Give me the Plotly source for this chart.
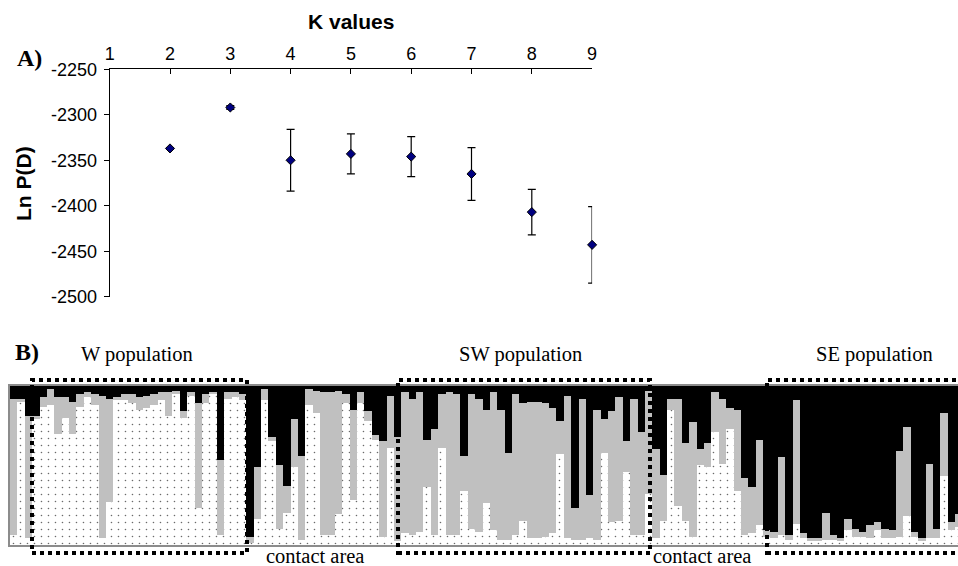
import plotly.graph_objects as go

# ---------------- Panel A data ----------------
k_values = [2, 3, 4, 5, 6, 7, 8, 9]
ln_pd_mean = [-2337, -2292, -2350, -2343, -2346, -2365, -2407, -2443]
ln_pd_sd = [1, 2, 34, 22, 22, 29, 25, 42]
k_ticks = [1, 2, 3, 4, 5, 6, 7, 8, 9]
y_ticks = [-2500, -2450, -2400, -2350, -2300, -2250]
y_tick_text = ["-2500", "-2450", "-2400", "-2350", "-2300", "-2250"]

# ---------------- Panel B data (membership proportions per individual) ----------------
q_black = [0.08, 0.08, 0.19, 0.19, 0.07, 0.02, 0.07, 0.07, 0.10, 0.05,
           0.04, 0.05, 0.06, 0.08, 0.07, 0.05, 0.05, 0.07, 0.06, 0.05,
           0.04, 0.04, 0.03, 0.16, 0.04, 0.11, 0.05, 0.04, 0.47, 0.04,
           0.04, 0.05, 0.95, 0.51, 0.02, 0.32, 0.50, 0.63, 0.21, 0.44,
           0.02, 0.03, 0.04, 0.04, 0.03, 0.05, 0.15, 0.04, 0.16, 0.31,
           0.35, 0.06, 0.32, 0.04, 0.08, 0.04, 0.34, 0.27, 0.05, 0.04,
           0.05, 0.44, 0.05, 0.08, 0.15, 0.04, 0.15, 0.42, 0.05, 0.11,
           0.10, 0.10, 0.11, 0.14, 0.22, 0.06, 0.77, 0.08, 0.69, 0.15,
           0.21, 0.16, 0.07, 0.35, 0.08, 0.29, 0.03, 0.40, 0.56, 0.08,
           0.08, 0.36, 0.23, 0.40, 0.36, 0.04, 0.08, 0.14, 0.15, 0.58,
           0.64, 0.34, 0.91, 0.92, 0.45, 0.94, 0.09, 0.93, 0.96, 0.96,
           0.80, 0.94, 0.96, 0.84, 0.90, 0.92, 0.88, 0.86, 0.90, 0.91,
           0.41, 0.26, 0.92, 0.96, 0.49, 0.90, 0.17, 0.86, 0.81]
q_gray = [0.86, 0.02, 0.77, 0.02, 0.06, 0.10, 0.23, 0.13, 0.20, 0.08,
          0.03, 0.07, 0.90, 0.65, 0.02, 0.04, 0.06, 0.08, 0.08, 0.07,
          0.05, 0.15, 0.02, 0.04, 0.02, 0.66, 0.06, 0.01, 0.47, 0.04,
          0.03, 0.04, 0.04, 0.33, 0.07, 0.03, 0.40, 0.17, 0.30, 0.53,
          0.10, 0.14, 0.90, 0.90, 0.78, 0.06, 0.57, 0.07, 0.06, 0.03,
          0.60, 0.33, 0.66, 0.89, 0.86, 0.88, 0.30, 0.67, 0.34, 0.90,
          0.89, 0.22, 0.85, 0.84, 0.59, 0.87, 0.82, 0.55, 0.89, 0.74,
          0.86, 0.86, 0.84, 0.79, 0.21, 0.90, 0.20, 0.89, 0.27, 0.82,
          0.21, 0.70, 0.78, 0.19, 0.86, 0.65, 0.65, 0.56, 0.29, 0.07,
          0.68, 0.49, 0.72, 0.10, 0.15, 0.25, 0.41, 0.13, 0.51, 0.36,
          0.29, 0.54, 0.04, 0.04, 0.49, 0.03, 0.78, 0.03, 0.02, 0.02,
          0.17, 0.03, 0.02, 0.07, 0.05, 0.03, 0.08, 0.05, 0.06, 0.05,
          0.54, 0.56, 0.03, 0.02, 0.47, 0.06, 0.40, 0.05, 0.08]
q_white = [0.06, 0.90, 0.04, 0.79, 0.87, 0.88, 0.70, 0.80, 0.70, 0.87,
           0.93, 0.88, 0.04, 0.27, 0.91, 0.91, 0.89, 0.85, 0.86, 0.88,
           0.91, 0.81, 0.95, 0.80, 0.94, 0.23, 0.89, 0.95, 0.06, 0.92,
           0.93, 0.91, 0.01, 0.16, 0.91, 0.65, 0.10, 0.20, 0.49, 0.03,
           0.88, 0.83, 0.06, 0.06, 0.19, 0.89, 0.28, 0.89, 0.78, 0.66,
           0.05, 0.61, 0.02, 0.07, 0.06, 0.08, 0.36, 0.06, 0.61, 0.06,
           0.06, 0.34, 0.10, 0.08, 0.26, 0.09, 0.03, 0.03, 0.06, 0.15,
           0.04, 0.04, 0.05, 0.07, 0.57, 0.04, 0.03, 0.03, 0.04, 0.03,
           0.58, 0.14, 0.15, 0.46, 0.06, 0.06, 0.32, 0.04, 0.15, 0.85,
           0.24, 0.15, 0.05, 0.50, 0.49, 0.71, 0.51, 0.73, 0.34, 0.06,
           0.07, 0.12, 0.05, 0.04, 0.06, 0.03, 0.13, 0.04, 0.02, 0.02,
           0.03, 0.03, 0.02, 0.09, 0.05, 0.05, 0.04, 0.09, 0.04, 0.04,
           0.05, 0.18, 0.05, 0.02, 0.04, 0.04, 0.43, 0.09, 0.11]
individuals = list(range(len(q_black)))

W, H = 958, 566


def px(x):
    return x / W


def py(y):
    return 1 - y / H


fig = go.Figure()

# Panel A
fig.add_trace(go.Scatter(
    x=k_values, y=ln_pd_mean, mode="markers",
    marker=dict(symbol="diamond", size=7, color="#000080",
                line=dict(color="black", width=1)),
    error_y=dict(type="data", array=ln_pd_sd, color="black",
                 thickness=1.2, width=4, visible=True),
    cliponaxis=False, showlegend=False, xaxis="x", yaxis="y"))

# Panel B: stacked membership bars
fig.add_trace(go.Bar(
    x=individuals, y=q_white, xaxis="x2", yaxis="y2", showlegend=False,
    marker=dict(color="white", line=dict(width=0),
                pattern=dict(shape=".", fgcolor="#6a6a6a", bgcolor="white",
                             size=7, solidity=0.04))))
fig.add_trace(go.Bar(
    x=individuals, y=q_gray, xaxis="x2", yaxis="y2", showlegend=False,
    marker=dict(color="#c0c0c0", line=dict(width=0))))
fig.add_trace(go.Bar(
    x=individuals, y=q_black, xaxis="x2", yaxis="y2", showlegend=False,
    marker=dict(color="black", line=dict(width=0))))

sans = "Liberation Sans, Arial, sans-serif"
serif = "Liberation Serif, Times New Roman, serif"

fig.update_layout(
    template="none",
    width=W, height=H, autosize=False,
    margin=dict(l=0, r=0, t=0, b=0, pad=0, autoexpand=False),
    paper_bgcolor="white", plot_bgcolor="white",
    barmode="stack", bargap=0,
    xaxis=dict(domain=[px(109.7), px(592.1)], range=[1, 9], side="top",
               anchor="y", tickvals=k_ticks, ticks="inside", ticklen=5,
               tickcolor="black", showline=True, linecolor="black",
               linewidth=1, showgrid=False, zeroline=False, automargin=False,
               tickfont=dict(family=sans, size=18, color="black"),
               ticklabelstandoff=1),
    yaxis=dict(domain=[py(296.7), py(69.3)], range=[-2500, -2250],
               anchor="x", tickvals=y_ticks, ticktext=y_tick_text,
               ticks="outside", ticklen=5,
               tickcolor="black", showline=True, linecolor="black",
               linewidth=1, showgrid=False, zeroline=False, automargin=False,
               tickfont=dict(family=sans, size=18, color="black"),
               ticklabelstandoff=3),
    xaxis2=dict(domain=[px(10), 1], range=[-0.5, 127.9], anchor="y2",
                showticklabels=False, ticks="", showline=True, mirror=True,
                linecolor="#8c8c8c", linewidth=1.5, showgrid=False,
                zeroline=False, automargin=False),
    yaxis2=dict(domain=[py(544.5), py(386)], range=[0, 1], anchor="x2",
                showticklabels=False, ticks="", showline=True,
                linecolor="#8c8c8c", linewidth=1.5, showgrid=False,
                zeroline=False, automargin=False),
)

# dotted population boxes
dot = dict(color="black", width=4, dash="4px,4px")
for x0, x1 in [(32, 247), (398, 650), (767, 975)]:
    fig.add_shape(type="rect", xref="paper", yref="paper",
                  x0=px(x0), x1=px(x1), y0=py(553), y1=py(380),
                  line=dot, fillcolor="rgba(0,0,0,0)", layer="above")

annots = [
    ("<b>A)</b>", 29, 58, serif, 24, 0),
    ("<b>K values</b>", 351, 21, sans, 21, 0),
    ("<b>Ln P(D)</b>", 23, 184, sans, 21, -90),
    ("<b>B)</b>", 27, 352, serif, 24, 0),
    ("W population", 137, 354, serif, 20.5, 0),
    ("SW population", 520, 354, serif, 20.5, 0),
    ("SE population", 874, 354, serif, 20.5, 0),
    ("contact area", 315, 556, serif, 20.5, 0),
    ("contact area", 702, 556, serif, 20.5, 0),
]
for text, x, y, fam, size, ang in annots:
    fig.add_annotation(text=text, x=px(x), y=py(y), xref="paper", yref="paper",
                       xanchor="center", yanchor="middle", showarrow=False,
                       textangle=ang, font=dict(family=fam, size=size, color="black"))

fig.write_html("out.html", config={"displayModeBar": False},
               post_script="document.body.style.margin='0px';document.body.style.overflow='hidden';")
